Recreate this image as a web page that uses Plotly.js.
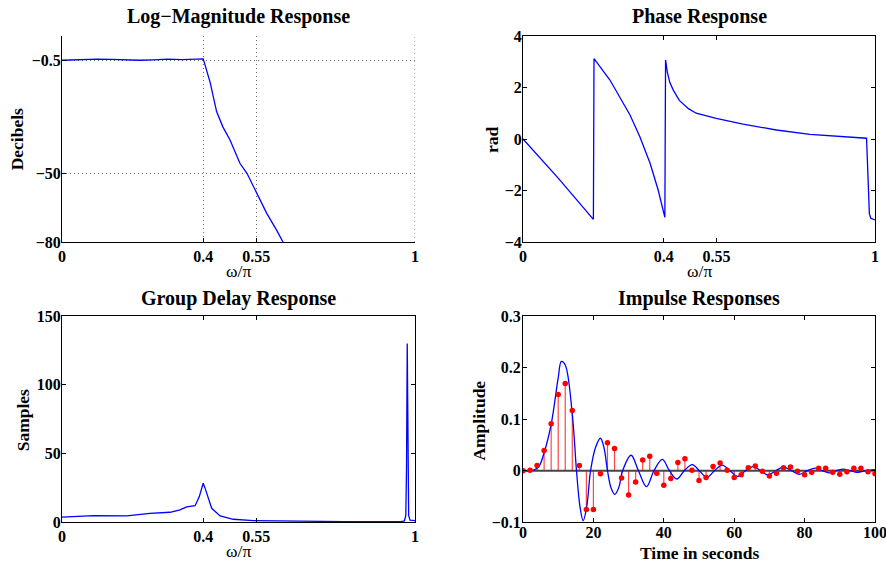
<!DOCTYPE html>
<html>
<head>
<meta charset="utf-8">
<script src="https://cdn.plot.ly/plotly-3.0.1.min.js"></script>
<style>html,body{margin:0;padding:0;background:#fff;}#chart{width:886px;height:563px;}</style>
</head>
<body>
<div id="chart"></div>
<script>
// ---- Log-magnitude response (omega/pi, dB)
var magW  = [0, 0.03, 0.06, 0.1, 0.14, 0.18, 0.22, 0.26, 0.3, 0.34, 0.37, 0.39, 0.4, 0.405, 0.412, 0.42, 0.438, 0.456, 0.476, 0.504, 0.524, 0.552, 0.58, 0.608, 0.626];
var magDb = [-0.6, -0.4, -0.2, -0.1, -0.2, -0.5, -0.6, -0.4, -0.1, -0.3, -0.1, -0.2, 0.0, -2.5, -6, -10.5, -23, -29.8, -35.4, -45.6, -50, -58.6, -67.5, -74.8, -80];
var magTickVals = [-80, -50, -0.5];
var freqTickVals = [0, 0.4, 0.55, 1];
var freqTickText = ['0', '0.4', '0.55', '1'];

// ---- Phase response (omega/pi, rad)
var phaseW   = [0, 0.1, 0.2, 0.2017, 0.247, 0.304, 0.332, 0.361, 0.384, 0.399, 0.403, 0.405, 0.41, 0.417, 0.427, 0.444, 0.47, 0.492, 0.549, 0.625, 0.72, 0.815, 0.901, 0.976, 0.984, 0.988, 1];
var phaseRad = [0, -1.52, -3.12, 3.12, 2.29, 0.93, 0.09, -0.94, -1.98, -2.76, -3.04, 3.07, 2.6, 2.2, 1.9, 1.5, 1.18, 1.0, 0.8, 0.58, 0.35, 0.18, 0.09, 0.03, -2.9, -3.08, -3.14];
var phaseTickVals = [-4, -2, 0, 2, 4];

// ---- Group delay (omega/pi, samples)
var gdW   = [0, 0.089, 0.183, 0.249, 0.306, 0.334, 0.353, 0.377, 0.389, 0.395, 0.4, 0.405, 0.412, 0.424, 0.448, 0.485, 0.542, 0.65, 0.8, 0.96, 0.97, 0.974, 0.976, 0.978, 0.98, 0.982, 0.986, 1];
var gdVal = [3.8, 4.8, 4.6, 6.5, 7.3, 9, 11.2, 12.1, 18.7, 25, 28.4, 25, 19.9, 10.2, 4.6, 2.2, 1.2, 0.7, 0.5, 0.5, 1, 5, 40, 130, 40, 5, 1.5, 1.2];
var gdTickVals = [0, 50, 100, 150];

// ---- Impulse responses
var contT = [0,3,4.5,6,8,10,10.9,12,14,15.2, 16.2,17.1,18.1,19.2,20.6,22.0,23,24.0,25,26.1, 27.2,28.3,30.7,32.8,35.1,37.2,39.6,41.6,43.7,45.8, 48.1,50.1,52.2,54.4,56.6,58.8,61,63.2,65.3,67.5, 69.6,71.8,74,76.3,78.5,80.8,83,85,87,89, 91,93,95,97.5,100];
var contY = [0,0.001,0.008,0.035,0.09,0.18,0.212,0.205,0.11,0, -0.07,-0.097,-0.07,0,0.045,0.063,0.045,0,-0.033,-0.046, -0.033,0,0.030,0,-0.031,0,0.022,0,-0.016,0, 0.012,0,-0.013,0,0.011,0,-0.011,0,0.008,0, -0.008,0,0.007,0,-0.007,0,0.005,0,-0.004,0, 0.003,0,-0.003,0,0.002];
var stemT = [0,2,4,6,8,10,12,14,16,18, 20,22,24,26,28,30,32,34,36,38, 40,42,44,46,48,50,52,54,56,58, 60,62,64,66,68,70,72,74,76,78, 80,82,84,86,88,90,92,94,96,98, 100];
var stemY = [0,0.001,0.010,0.039,0.091,0.148,0.169,0.117,0.010,-0.075, -0.075,-0.006,0.054,0.043,-0.014,-0.047,-0.022,0.021,0.028,-0.005, -0.028,-0.015,0.016,0.023,0.001,-0.019,-0.013,0.008,0.015,0.001, -0.013,-0.008,0.006,0.009,-0.001,-0.010,-0.005,0.006,0.007,-0.001, -0.008,-0.003,0.005,0.005,-0.003,-0.007,-0.002,0.005,0.005,-0.002, -0.006];
var timeTickVals = [0, 20, 40, 60, 80, 100];
var ampTickVals = [-0.1, 0, 0.1, 0.2, 0.3];

var titles = ['Log\u2212Magnitude Response', 'Phase Response', 'Group Delay Response', 'Impulse Responses'];
var yTitles = ['Decibels', 'rad', 'Samples', 'Amplitude'];
var xTitles = ['\u03c9/\u03c0', '\u03c9/\u03c0', '\u03c9/\u03c0', 'Time in seconds'];

// stems built from data
var sx = [], sy = [];
for (var i = 0; i < stemT.length; i++) { sx.push(stemT[i], stemT[i], null); sy.push(0, stemY[i], null); }

var BLUE = 'rgb(0,0,255)', RED = 'rgb(255,0,0)';
var FONT = 'Liberation Serif, Times New Roman, serif';
var GRID = 'rgb(110,110,110)';
var GRIDDASH = '1px,3px';

var traces = [
  {x: magW, y: magDb, xaxis: 'x', yaxis: 'y', type: 'scatter', mode: 'lines', line: {color: BLUE, width: 1.3}},
  {x: phaseW, y: phaseRad, xaxis: 'x2', yaxis: 'y2', type: 'scatter', mode: 'lines', line: {color: BLUE, width: 1.3}},
  {x: gdW, y: gdVal, xaxis: 'x3', yaxis: 'y3', type: 'scatter', mode: 'lines', line: {color: BLUE, width: 1.3}},
  {x: sx, y: sy, xaxis: 'x4', yaxis: 'y4', type: 'scatter', mode: 'lines', line: {color: 'rgb(255,70,70)', width: 1.2}},
  {x: [0, 100], y: [0, 0], xaxis: 'x4', yaxis: 'y4', type: 'scatter', mode: 'lines', line: {color: 'rgb(70,70,70)', width: 2}},
  {x: contT, y: contY, xaxis: 'x4', yaxis: 'y4', type: 'scatter', mode: 'lines', line: {color: BLUE, width: 1.3, shape: 'spline', smoothing: 1}},
  {x: stemT, y: stemY, xaxis: 'x4', yaxis: 'y4', type: 'scatter', mode: 'markers', marker: {color: RED, size: 5.5}}
];

var tickFont = {family: FONT, size: 16, color: '#000', weight: 'bold'};
function ax(opts) {
  var base = {
    showline: true, linecolor: '#000', linewidth: 1, mirror: 'ticks',
    ticks: 'inside', ticklen: 4, tickcolor: '#000', tickwidth: 1,
    tickfont: tickFont, zeroline: false, showgrid: false, fixedrange: true,
    ticklabeloverflow: 'allow'
  };
  for (var k in opts) base[k] = opts[k];
  return base;
}

var xL = [62/886, 415/886], xR = [523/886, 875/886];
var yT = [1 - 242/563, 1 - 36/563], yB = [1 - 522.3/563, 1 - 316/563];

var layout = {
  width: 886, height: 563,
  margin: {l: 0, r: 0, t: 0, b: 0},
  paper_bgcolor: '#fff', plot_bgcolor: '#fff',
  showlegend: false,
  font: {family: FONT, color: '#000'},
  xaxis: ax({domain: xL, anchor: 'y', range: [0, 1], tickmode: 'array', tickvals: freqTickVals, ticktext: freqTickText,
    mirror: false, showgrid: true, gridcolor: GRID, griddash: GRIDDASH, gridwidth: 1}),
  yaxis: ax({domain: yT, anchor: 'x', range: [-80, 10], tickmode: 'array', tickvals: magTickVals, ticklabelstandoff: -3,
    mirror: false, showgrid: true, gridcolor: GRID, griddash: GRIDDASH, gridwidth: 1}),
  xaxis2: ax({domain: xR, anchor: 'y2', range: [0, 1], tickmode: 'array', tickvals: freqTickVals, ticktext: freqTickText}),
  yaxis2: ax({domain: yT, anchor: 'x2', range: [-4, 4], tickmode: 'array', tickvals: phaseTickVals, ticklabelstandoff: -3}),
  xaxis3: ax({domain: xL, anchor: 'y3', range: [0, 1], tickmode: 'array', tickvals: freqTickVals, ticktext: freqTickText, ticklabelstandoff: -1}),
  yaxis3: ax({domain: yB, anchor: 'x3', range: [0, 150], tickmode: 'array', tickvals: gdTickVals, ticklabelstandoff: -3}),
  xaxis4: ax({domain: xR, anchor: 'y4', range: [0, 100], tickmode: 'array', tickvals: timeTickVals, ticklabelstandoff: -5}),
  yaxis4: ax({domain: yB, anchor: 'x4', range: [-0.1, 0.3], tickmode: 'array', tickvals: ampTickVals, ticklabelstandoff: -2}),
  shapes: [
    {type: 'line', xref: 'x', yref: 'y domain', x0: 1, x1: 1, y0: 0, y1: 1, line: {color: GRID, width: 1, dash: GRIDDASH}}
  ],
  annotations: []
};

var titlePos = [[238.5, 17], [699, 17], [238.5, 298], [699, 298]];
var yTitlePos = [[17.8, 139.5], [492, 139], [22.5, 420.8], [478.8, 420.8]];
var xTitlePos = [[238.5, 271], [699, 271], [238.5, 551], [699, 553]];
for (var j = 0; j < 4; j++) {
  layout.annotations.push({text: titles[j], xref: 'paper', yref: 'paper', x: titlePos[j][0]/886, y: 1 - titlePos[j][1]/563,
    xanchor: 'center', yanchor: 'middle', showarrow: false, font: {family: FONT, size: 20, color: '#000', weight: 'bold'}});
  layout.annotations.push({text: yTitles[j], xref: 'paper', yref: 'paper', x: yTitlePos[j][0]/886, y: 1 - yTitlePos[j][1]/563,
    xanchor: 'center', yanchor: 'middle', textangle: -90, showarrow: false, font: {family: FONT, size: 17.5, color: '#000', weight: 'bold'}});
  layout.annotations.push({text: xTitles[j], xref: 'paper', yref: 'paper', x: xTitlePos[j][0]/886, y: 1 - xTitlePos[j][1]/563,
    xanchor: 'center', yanchor: 'middle', showarrow: false,
    font: {family: FONT, size: 17.5, color: '#000', weight: (j === 3 ? 'bold' : 'normal')}});
}

Plotly.newPlot('chart', traces, layout, {staticPlot: true, displayModeBar: false});
</script>
</body>
</html>
